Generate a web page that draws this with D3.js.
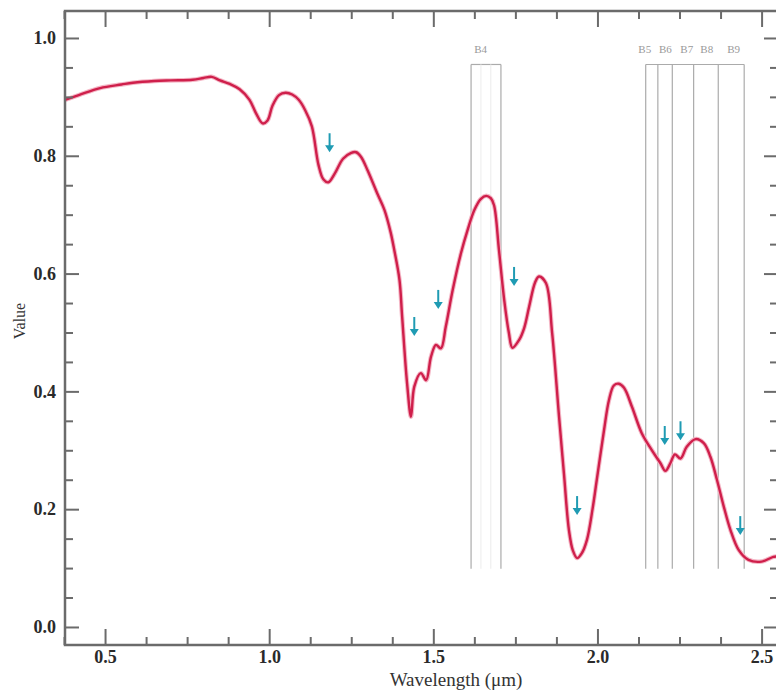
<!DOCTYPE html>
<html>
<head>
<meta charset="utf-8">
<script src="https://cdn.jsdelivr.net/npm/d3@7"></script>
<style>
  body { margin: 0; background: #fff; }
  svg { display: block; }
</style>
</head>
<body>
<div id="chart"></div>
<script>
// spectrum (wavelength in µm, value)
const wavelength = [0.378, 0.42, 0.485, 0.55, 0.585, 0.65, 0.70, 0.767, 0.80, 0.825, 0.85, 0.88, 0.91, 0.94, 0.96, 0.98, 0.995, 1.01, 1.03, 1.05,
  1.07, 1.09, 1.11, 1.13, 1.15, 1.165, 1.18, 1.20, 1.225, 1.25, 1.265, 1.28, 1.30, 1.33, 1.351, 1.37, 1.381, 1.397, 1.405, 1.42,
  1.432, 1.442, 1.462, 1.478, 1.493, 1.508, 1.523, 1.538, 1.559, 1.584, 1.605, 1.625, 1.645, 1.661, 1.675, 1.685, 1.70, 1.716, 1.73, 1.741,
  1.761, 1.777, 1.792, 1.81, 1.822, 1.843, 1.862, 1.883, 1.898, 1.913, 1.925, 1.938, 1.952, 1.968, 1.985, 1.998, 2.02, 2.035, 2.05, 2.065,
  2.081, 2.105, 2.135, 2.166, 2.192, 2.207, 2.222, 2.236, 2.253, 2.272, 2.299, 2.324, 2.344, 2.364, 2.385, 2.405, 2.43, 2.46, 2.50, 2.536, 2.55];
const value = [0.895, 0.903, 0.915, 0.921, 0.924, 0.927, 0.928, 0.929, 0.932, 0.934, 0.928, 0.922, 0.913, 0.895, 0.872, 0.855, 0.86, 0.885, 0.903, 0.907,
  0.904, 0.895, 0.877, 0.85, 0.785, 0.76, 0.755, 0.77, 0.795, 0.805, 0.806, 0.798, 0.775, 0.735, 0.708, 0.67, 0.64, 0.589, 0.527, 0.414,
  0.357, 0.408, 0.431, 0.419, 0.459, 0.479, 0.473, 0.51, 0.572, 0.634, 0.675, 0.708, 0.727, 0.732, 0.728, 0.716, 0.64, 0.555, 0.5, 0.474,
  0.487, 0.508, 0.544, 0.585, 0.595, 0.584, 0.499, 0.357, 0.26, 0.165, 0.13, 0.117, 0.125, 0.148, 0.2, 0.25, 0.334, 0.385, 0.41, 0.413,
  0.406, 0.374, 0.329, 0.30, 0.278, 0.265, 0.278, 0.293, 0.286, 0.306, 0.319, 0.312, 0.289, 0.25, 0.204, 0.165, 0.131, 0.114, 0.111, 0.119, 0.12];

// absorption features marked with arrows (wavelength, value at arrow tip)
const arrowWl = [1.184, 1.442, 1.515, 1.746, 1.938, 2.205, 2.253, 2.435];
const arrowTip = [0.806, 0.494, 0.54, 0.579, 0.19, 0.309, 0.317, 0.156];

// band boxes: vertical edges and labels
const b4Edges = [1.615, 1.645, 1.675, 1.706];
const swirEdges = [2.147, 2.184, 2.228, 2.293, 2.368, 2.447];
const bandNames = ["B4", "B5", "B6", "B7", "B8", "B9"];
const bandLabelWl = [1.644, 2.144, 2.207, 2.272, 2.333, 2.415];
const bandTop = 0.955, bandBottom = 0.099;

const xMajor = [0.5, 1.0, 1.5, 2.0, 2.5];
const xMinor = d3.range(0.375, 2.55, 0.125).filter(d => xMajor.indexOf(+d.toFixed(3)) < 0);
const yMajor = [0.0, 0.2, 0.4, 0.6, 0.8, 1.0];
const yMinor = d3.range(0, 1.05, 0.05).filter(d => Math.round(d * 100) % 20 !== 0);

const W = 776, H = 693;
const margin = { top: 11, left: 65 };
const width = 713, height = 634;

const svg = d3.select("#chart").append("svg")
  .attr("width", W)
  .attr("height", H);

const g = svg.append("g").attr("transform", `translate(${margin.left},${margin.top})`);

const x = d3.scaleLinear().domain([0.378, 2.55]).range([0, width]);
const y = d3.scaleLinear().domain([-0.0306, 1.0458]).range([height, 0]);

// band boxes
const bandColor = "#ababab";
[b4Edges, swirEdges].forEach(edges => {
  g.append("line")
    .attr("x1", x(edges[0])).attr("x2", x(edges[edges.length - 1]))
    .attr("y1", y(bandTop)).attr("y2", y(bandTop))
    .style("stroke", bandColor).style("stroke-width", 1.2);
  g.selectAll(null)
    .data(edges)
    .enter()
    .append("line")
    .attr("x1", d => x(d)).attr("x2", d => x(d))
    .attr("y1", y(bandTop)).attr("y2", y(bandBottom))
    .style("stroke", (d, i) => (edges === b4Edges && i > 0 && i < 3) ? "#efefef" : bandColor)
    .style("stroke-width", 1.2);
});

g.selectAll(".band-label")
  .data(bandNames)
  .enter()
  .append("text")
  .attr("class", "band-label")
  .attr("x", (d, i) => x(bandLabelWl[i]))
  .attr("y", y(bandTop) - 11)
  .attr("text-anchor", "middle")
  .style("font-family", "'Liberation Serif', serif")
  .style("font-size", "11px")
  .style("fill", "#9a9a9a")
  .text(d => d);

// spectrum
const line = d3.line()
  .x(i => x(wavelength[i]))
  .y(i => y(value[i]))
  .curve(d3.curveCatmullRom.alpha(0.5));

g.append("path")
  .datum(d3.range(wavelength.length))
  .attr("d", line)
  .style("fill", "none")
  .style("stroke", "#f4b7c6")
  .style("stroke-width", 4.5)
  .style("stroke-linejoin", "round");

g.append("path")
  .datum(d3.range(wavelength.length))
  .attr("d", line)
  .style("fill", "none")
  .style("stroke", "#cf1f4b")
  .style("stroke-width", 2.4)
  .style("stroke-linejoin", "round");

// arrows
const arrowColor = "#1f9bb3";
const arrows = g.selectAll(".arrow")
  .data(arrowWl)
  .enter()
  .append("g")
  .attr("class", "arrow")
  .attr("transform", (d, i) => `translate(${x(d)},${y(arrowTip[i])})`);

arrows.append("line")
  .attr("x1", 0).attr("x2", 0)
  .attr("y1", -19).attr("y2", -5)
  .style("stroke", arrowColor)
  .style("stroke-width", 2);

arrows.append("path")
  .attr("d", "M-4.5,-7 L4.5,-7 L0,0 Z")
  .style("fill", arrowColor);

// frame and ticks
const axisColor = "#6b6b6b";
g.append("rect")
  .attr("width", width)
  .attr("height", height)
  .style("fill", "none")
  .style("stroke", axisColor)
  .style("stroke-width", 2.5);

const styleAxis = sel => {
  sel.select(".domain").remove();
  sel.selectAll(".tick line").style("stroke", axisColor).style("stroke-width", 2);
  sel.selectAll("text")
    .style("font-family", "'Liberation Serif', serif")
    .style("font-weight", "bold")
    .style("font-size", "18px")
    .style("fill", "#2a2a2a");
};

g.append("g")
  .attr("transform", `translate(0,${height})`)
  .call(d3.axisBottom(x).tickValues(xMajor).tickSize(-16).tickPadding(5).tickFormat(d3.format(".1f")))
  .call(styleAxis);
g.append("g")
  .attr("transform", `translate(0,${height})`)
  .call(d3.axisBottom(x).tickValues(xMinor).tickSize(-8).tickFormat(""))
  .call(styleAxis);
g.append("g")
  .call(d3.axisTop(x).tickValues(xMajor).tickSize(-16).tickFormat(""))
  .call(styleAxis);
g.append("g")
  .call(d3.axisTop(x).tickValues(xMinor).tickSize(-8).tickFormat(""))
  .call(styleAxis);

g.append("g")
  .call(d3.axisLeft(y).tickValues(yMajor).tickSize(-14).tickPadding(9).tickFormat(d3.format(".1f")))
  .call(styleAxis);
g.append("g")
  .call(d3.axisLeft(y).tickValues(yMinor).tickSize(-8).tickFormat(""))
  .call(styleAxis);
g.append("g")
  .attr("transform", `translate(${width},0)`)
  .call(d3.axisRight(y).tickValues(yMajor).tickSize(-14).tickFormat(""))
  .call(styleAxis);
g.append("g")
  .attr("transform", `translate(${width},0)`)
  .call(d3.axisRight(y).tickValues(yMinor).tickSize(-8).tickFormat(""))
  .call(styleAxis);

// axis titles
svg.append("text")
  .attr("x", 456)
  .attr("y", 686)
  .attr("text-anchor", "middle")
  .style("font-family", "'Liberation Serif', serif")
  .style("font-size", "19px")
  .style("fill", "#333")
  .text("Wavelength (μm)");

svg.append("text")
  .attr("transform", "rotate(-90)")
  .attr("x", -321)
  .attr("y", 25)
  .attr("text-anchor", "middle")
  .style("font-family", "'Liberation Serif', serif")
  .style("font-size", "16px")
  .style("fill", "#333")
  .text("Value");
</script>
</body>
</html>
